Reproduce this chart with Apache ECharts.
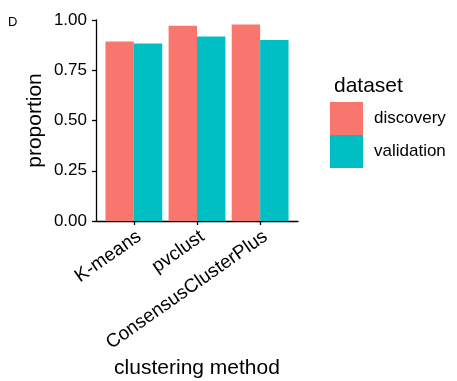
<!DOCTYPE html>
<html>
<head>
<meta charset="utf-8">
<script src="https://cdn.jsdelivr.net/npm/echarts@6/dist/echarts.min.js"></script>
<style>
html,body{margin:0;padding:0;background:#fff;}
#chart{width:457px;height:381px;}
</style>
</head>
<body>
<div id="chart"></div>
<script>
const categories = ["K-means", "pvclust", "ConsensusClusterPlus"];
const discovery = [0.893, 0.972, 0.978];
const validation = [0.883, 0.918, 0.900];
const yTicks = [0, 0.25, 0.5, 0.75, 1];
const seriesNames = ["discovery", "validation"];

const FONT = "'Liberation Sans', Arial, Helvetica, sans-serif";
const chart = echarts.init(document.getElementById('chart'), null, {renderer: 'canvas'});
const catIdx = categories.map((c, i) => i);

chart.setOption({
  animation: false,
  backgroundColor: '#ffffff',
  textStyle: {fontFamily: FONT},
  title: [
    {text: 'D', left: 3, top: 11, textStyle: {fontSize: 13, fontWeight: 'normal', color: '#000', fontFamily: FONT}},
    {text: 'dataset', left: 329, top: 71, textStyle: {fontSize: 21, fontWeight: 'normal', color: '#000', fontFamily: FONT}}
  ],
  legend: {
    orient: 'vertical',
    left: 330, top: 102,
    padding: 0,
    itemWidth: 33, itemHeight: 33, itemGap: 0,
    icon: 'rect',
    data: seriesNames,
    textStyle: {fontSize: 17, color: '#000', fontFamily: FONT, padding: [0, 0, 0, 6]}
  },
  grid: {left: 96, right: 159, top: 20, bottom: 160, containLabel: false, outerBoundsMode: 'none'},
  xAxis: {
    type: 'value',
    min: -0.6, max: 2.6,
    name: 'clustering method',
    nameLocation: 'middle',
    nameGap: 137,
    nameMoveOverlap: false,
    nameTextStyle: {fontSize: 21, color: '#000', fontFamily: FONT, verticalAlign: 'top'},
    splitLine: {show: false},
    axisLine: {show: true, onZero: false, lineStyle: {color: '#000', width: 1.3}},
    axisTick: {show: true, length: 4, customValues: catIdx, lineStyle: {color: '#000', width: 1.3}},
    axisLabel: {
      customValues: catIdx,
      rotate: 35,
      verticalAlign: 'top',
      fontSize: 19, color: '#000', fontFamily: FONT,
      margin: 6,
      formatter: v => categories[Math.round(v)] || ''
    }
  },
  yAxis: {
    type: 'value',
    min: 0, max: 1, interval: 0.25,
    name: 'proportion',
    nameLocation: 'middle',
    nameGap: 50,
    nameTextStyle: {fontSize: 21, color: '#000', fontFamily: FONT},
    splitLine: {show: false},
    axisLine: {show: true, onZero: false, lineStyle: {color: '#000', width: 1.3}},
    axisTick: {show: true, length: 4, lineStyle: {color: '#000', width: 1.3}},
    axisLabel: {
      fontSize: 17, color: '#000', fontFamily: FONT, margin: 9,
      formatter: v => v.toFixed(2)
    }
  },
  series: [
    {
      name: seriesNames[0], type: 'bar',
      data: discovery.map((v, i) => [i, v]),
      barWidth: '45%', barGap: '0%',
      itemStyle: {color: '#F8766D'}
    },
    {
      name: seriesNames[1], type: 'bar',
      data: validation.map((v, i) => [i, v]),
      barWidth: '45%', barGap: '0%',
      itemStyle: {color: '#00BFC4'}
    }
  ]
});
</script>
</body>
</html>
